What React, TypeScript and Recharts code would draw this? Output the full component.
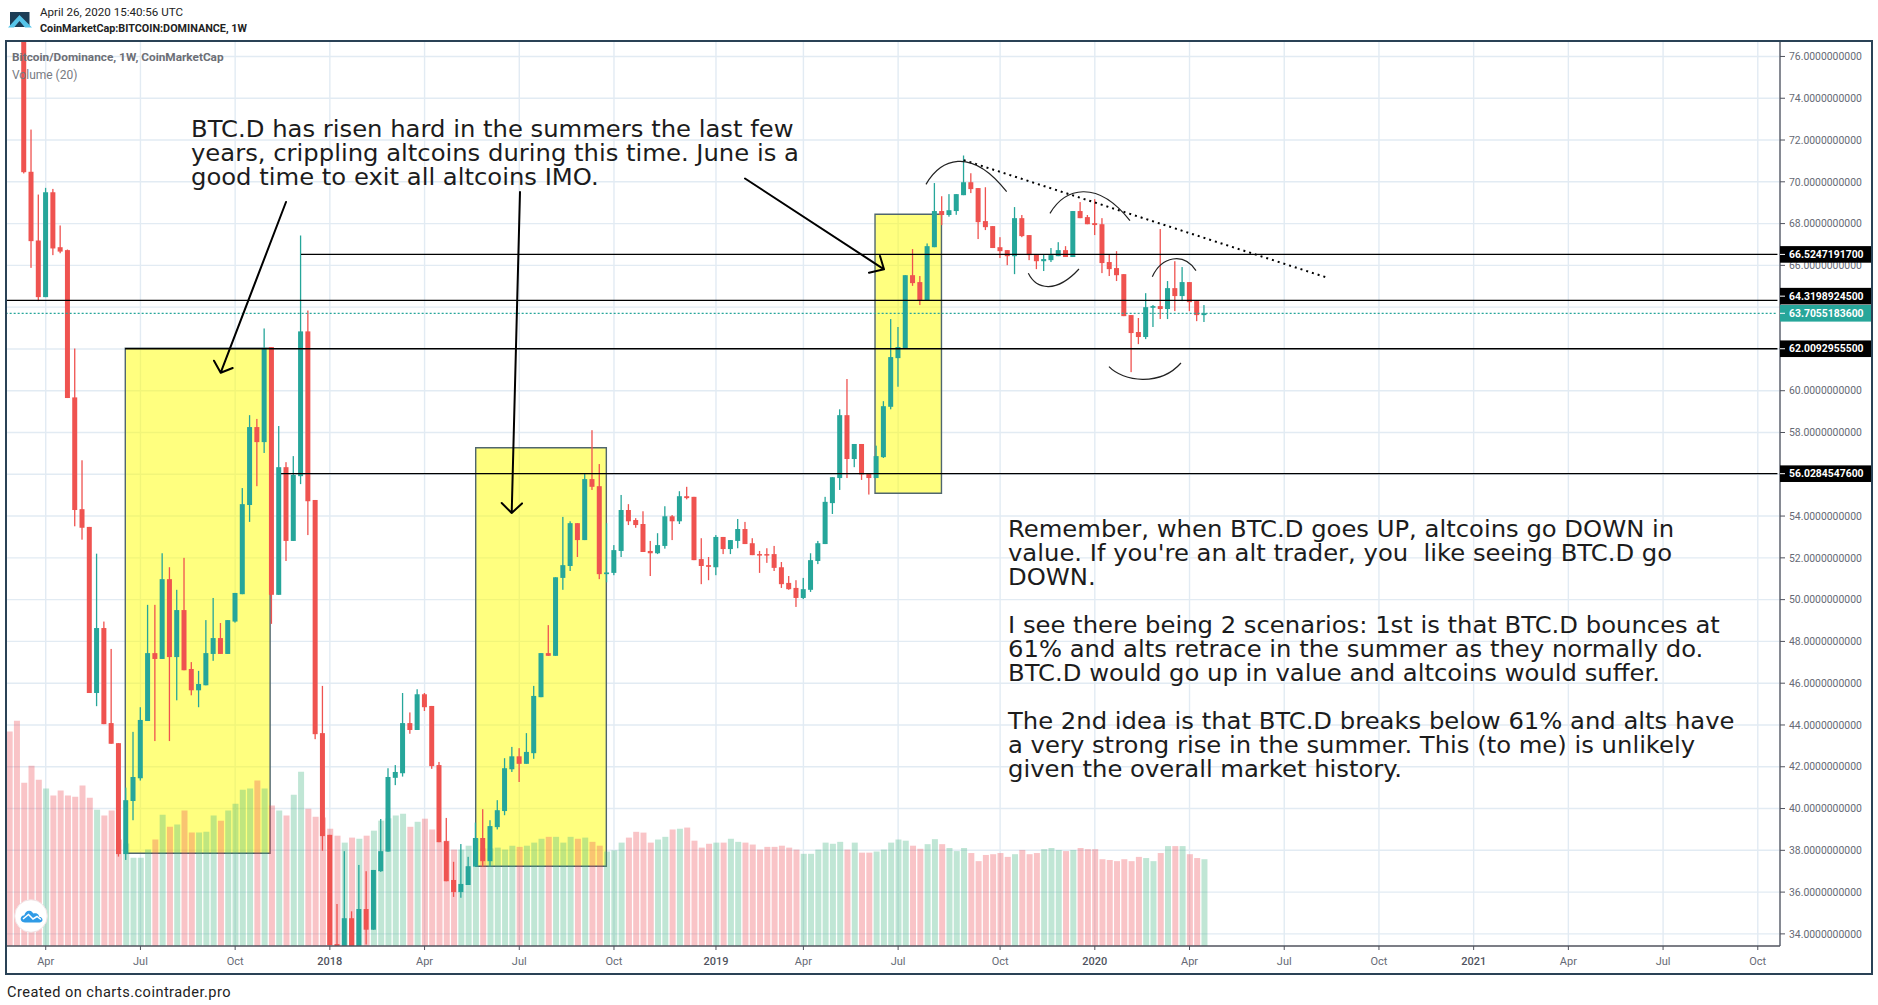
import React from "react";
import {
  Bar,
  CartesianGrid,
  Cell,
  ComposedChart,
  ReferenceArea,
  ReferenceLine,
  XAxis,
  YAxis,
} from "recharts";

// weekly candles (first three start above the visible range)
const opens = [
  85.2, 83.6, 82.4, 70.48, 67.19, 64.48, 69.5, 66.87, 66.73, 59.68, 54.33, 53.48, 45.53, 48.64, 44.09, 43.13, 37.82, 40.36, 41.45, 44.19,
  47.44, 47.16, 50.98, 47.25, 49.5, 46.68, 45.66, 45.9, 47.4, 48.16, 47.4, 48.95, 50.26, 54.53, 58.26, 57.54, 62.09, 50.23, 56.34, 52.81,
  55.91, 62.84, 54.77, 43.61, 38.74, 33.51, 32.8, 34.75, 32.9, 35.19, 34.2, 37.0, 37.94, 41.47, 41.69, 44.09, 43.76, 45.47, 44.91, 42.08,
  38.44, 36.58, 36.0, 36.34, 37.22, 38.59, 37.48, 39.11, 39.88, 41.88, 42.5, 42.14, 42.65, 45.33, 47.44, 47.31, 51.04, 51.61, 53.66, 52.85,
  55.77, 55.43, 51.22, 51.28, 52.33, 54.29, 53.81, 53.62, 52.33, 52.22, 52.57, 53.99, 53.75, 54.95, 54.92, 51.94, 51.65, 51.55, 53.0, 52.42,
  52.81, 53.38, 52.7, 52.18, 52.18, 52.18, 51.55, 50.8, 50.56, 50.08, 50.47, 51.85, 52.66, 54.62, 55.82, 58.83, 56.73, 57.45, 56.02, 55.82,
  56.82, 59.23, 61.56, 62.04, 65.53, 65.2, 64.31, 66.87, 68.6, 68.41, 68.6, 69.36, 69.98, 69.7, 68.12, 67.88, 66.87, 66.73, 66.44, 68.26,
  67.45, 66.54, 66.2, 66.25, 66.44, 66.73, 66.4, 68.6, 68.31, 68.02, 67.97, 66.16, 65.87, 65.58, 63.62, 62.81, 62.57, 63.97, 64.05, 63.91,
  64.91, 64.53, 65.2, 64.29, 63.62,
];
const highs = [
  86.0, 84.6, 82.9, 72.5, 69.39, 69.71, 69.66, 67.91, 66.76, 62.02, 56.67, 53.48, 52.2, 48.95, 47.64, 43.13, 41.0, 43.67, 44.85, 49.75,
  49.75, 52.22, 51.55, 50.47, 52.0, 47.01, 46.59, 49.02, 50.08, 48.88, 49.02, 50.32, 55.34, 58.83, 58.65, 62.98, 62.09, 58.31, 56.58, 56.87,
  67.43, 63.84, 54.77, 45.87, 38.74, 35.43, 37.96, 35.08, 37.3, 37.0, 37.06, 39.5, 41.93, 42.08, 45.53, 44.6, 45.71, 45.53, 44.91, 42.23,
  39.55, 37.45, 38.3, 37.69, 39.33, 39.97, 39.44, 40.4, 42.41, 42.95, 42.89, 43.61, 45.87, 47.44, 48.78, 51.07, 53.96, 53.75, 53.66, 56.06,
  58.11, 56.49, 53.66, 52.61, 55.01, 54.57, 53.9, 54.23, 52.81, 53.18, 54.47, 54.05, 55.19, 55.4, 54.92, 52.94, 52.04, 53.09, 53.0, 52.85,
  53.86, 53.72, 52.94, 52.33, 52.46, 52.57, 51.8, 51.13, 50.93, 51.04, 52.22, 52.81, 54.92, 55.86, 59.11, 60.56, 57.45, 57.45, 56.02, 57.37,
  59.5, 63.43, 63.05, 65.53, 66.78, 65.49, 67.05, 69.94, 69.31, 69.41, 69.41, 71.26, 70.41, 69.7, 69.74, 67.88, 67.35, 66.73, 68.79, 68.41,
  67.45, 66.54, 66.54, 66.83, 67.11, 66.92, 68.6, 69.03, 68.41, 69.17, 68.26, 66.54, 66.68, 65.58, 63.62, 63.48, 64.67, 64.1, 67.74, 65.25,
  66.2, 65.92, 65.2, 64.34, 64.1,
];
const lows = [
  83.1, 81.9, 70.4, 65.88, 64.29, 64.48, 66.49, 66.58, 59.65, 53.51, 52.87, 45.53, 44.9, 44.04, 43.1, 37.7, 37.54, 39.44, 41.34, 44.19,
  43.23, 47.16, 43.23, 45.18, 46.62, 45.42, 44.85, 45.9, 47.07, 47.4, 47.4, 48.9, 50.26, 53.72, 55.43, 57.02, 48.84, 50.23, 51.85, 52.81,
  55.53, 53.09, 43.32, 37.98, 33.46, 32.9, 32.5, 32.7, 32.7, 33.49, 34.2, 36.97, 37.94, 41.12, 41.53, 43.58, 43.76, 44.67, 41.9, 38.39,
  36.52, 35.77, 35.73, 36.34, 37.22, 37.22, 37.22, 39.0, 39.68, 41.75, 41.27, 42.14, 42.38, 45.33, 47.31, 47.31, 50.47, 51.37, 52.04, 52.85,
  55.25, 50.98, 50.83, 51.17, 52.04, 53.57, 53.44, 52.28, 51.13, 52.18, 52.44, 52.85, 53.62, 54.8, 51.89, 50.74, 50.93, 51.17, 52.18, 52.18,
  52.46, 52.66, 52.13, 51.28, 51.76, 51.37, 50.56, 50.47, 49.65, 50.02, 50.37, 51.7, 52.66, 54.1, 55.25, 55.82, 56.34, 55.73, 55.03, 55.82,
  56.78, 59.11, 60.19, 62.04, 65.02, 64.1, 64.31, 66.87, 67.93, 68.33, 68.42, 69.36, 69.46, 67.26, 67.69, 66.83, 66.35, 66.01, 65.58, 67.35,
  66.25, 65.82, 65.73, 66.16, 66.44, 66.4, 66.4, 68.26, 67.97, 67.45, 65.63, 65.49, 65.25, 63.57, 60.89, 62.23, 62.47, 63.05, 63.43, 63.43,
  63.81, 64.29, 63.81, 63.33, 63.29,
];
const closes = [
  83.6, 82.4, 70.46, 67.16, 64.48, 69.5, 66.81, 66.66, 59.65, 54.29, 53.44, 45.53, 48.64, 44.04, 43.1, 37.82, 40.4, 41.51, 44.24, 47.44,
  47.16, 50.98, 47.25, 49.5, 46.62, 45.66, 45.96, 47.44, 48.16, 47.4, 49.02, 50.32, 54.57, 58.26, 57.54, 62.05, 50.23, 56.34, 52.81, 55.97,
  62.84, 54.71, 43.56, 38.68, 33.46, 32.9, 34.75, 32.9, 35.19, 34.2, 37.06, 37.96, 41.51, 41.75, 44.09, 43.76, 45.47, 44.85, 42.03, 38.39,
  36.52, 36.0, 36.39, 37.24, 38.59, 37.48, 39.16, 39.92, 41.93, 42.5, 42.14, 42.71, 45.39, 47.44, 47.31, 51.07, 51.65, 53.66, 52.85, 55.77,
  55.4, 51.22, 51.3, 52.37, 54.29, 53.75, 53.57, 52.28, 52.22, 52.61, 53.99, 53.75, 54.95, 54.86, 51.89, 51.61, 51.57, 53.0, 52.42, 52.85,
  53.38, 52.66, 52.13, 52.15, 52.15, 51.52, 50.74, 50.5, 50.08, 50.5, 51.89, 52.7, 54.68, 55.86, 58.83, 56.73, 57.45, 55.99, 55.82, 56.87,
  59.26, 61.61, 62.09, 65.53, 65.15, 64.31, 66.92, 68.6, 68.41, 68.64, 69.41, 69.98, 69.65, 68.07, 67.83, 66.83, 66.68, 66.44, 68.26, 67.4,
  66.49, 66.2, 66.3, 66.49, 66.73, 66.4, 68.6, 68.26, 67.97, 67.93, 66.11, 65.82, 65.53, 63.57, 62.76, 62.57, 64.0, 64.05, 63.91, 64.91,
  64.53, 65.2, 64.24, 63.62, 63.71,
];
const volumes = [
  556, 584, 423, 467, 431, 408, 390, 403, 390, 387, 416, 384, 353, 338, 351, 276, 266, 229, 229, 250,
  276, 340, 309, 315, 351, 294, 294, 296, 338, 325, 351, 369, 405, 408, 429, 408, 364, 351, 338, 392,
  452, 356, 335, 333, 304, 286, 268, 281, 278, 286, 299, 325, 331, 338, 343, 309, 322, 330, 302, 270,
  273, 250, 250, 260, 279, 253, 253, 255, 250, 260, 257, 260, 268, 278, 283, 283, 268, 283, 278, 281,
  270, 260, 245, 248, 268, 281, 296, 294, 268, 276, 283, 302, 304, 307, 273, 255, 265, 268, 268, 278,
  270, 268, 263, 250, 257, 257, 260, 255, 250, 239, 239, 250, 268, 265, 270, 250, 268, 242, 242, 245,
  250, 268, 276, 273, 260, 252, 264, 277, 264, 254, 246, 254, 241, 220, 236, 238, 241, 231, 238, 249,
  238, 241, 251, 254, 249, 246, 249, 254, 251, 251, 225, 223, 220, 225, 220, 231, 228, 220, 241, 259,
  259, 259, 238, 228, 225,
];

const priceGrid = [76, 74, 72, 70, 68, 66, 64, 62, 60, 58, 56, 54, 52, 50, 48, 46, 44, 42, 40, 38, 36, 34];
const levels = [66.52471917, 64.31989245, 63.70551836, 62.00929555, 56.02845476];
const lastPrice = 63.70551836;
const timeTicks = [5, 18, 31, 44, 57, 70, 83, 97, 109, 122, 136, 149, 162, 175, 188, 201, 214, 227, 240];
const timeLabels = ["Apr", "Jul", "Oct", "2018", "Apr", "Jul", "Oct", "2019", "Apr", "Jul", "Oct", "2020", "Apr", "Jul", "Oct", "2021", "Apr", "Jul", "Oct"];

const noteTop = [
  "BTC.D has risen hard in the summers the last few",
  "years, crippling altcoins during this time. June is a",
  "good time to exit all altcoins IMO.",
];
const noteRight = [
  "Remember, when BTC.D goes UP, altcoins go DOWN in",
  "value. If you're an alt trader, you  like seeing BTC.D go",
  "DOWN.",
  "",
  "I see there being 2 scenarios: 1st is that BTC.D bounces at",
  "61% and alts retrace in the summer as they normally do.",
  "BTC.D would go up in value and altcoins would suffer.",
  "",
  "The 2nd idea is that BTC.D breaks below 61% and alts have",
  "a very strong rise in the summer. This (to me) is unlikely",
  "given the overall market history.",
];

const UP = "#26a69a";
const DOWN = "#ef5350";
const AXIS = "#50535e";
const GRID = "#e2ebf3";
const PLOT_RIGHT = 1780;
const PLOT_BOTTOM = 946;
const X_DOMAIN = [-0.5, 243.05];

const candles = opens.map((open, i) => ({
  index: i,
  open,
  high: highs[i],
  low: lows[i],
  close: closes[i],
  volume: volumes[i],
}));

const CandleShape = (props: any) => {
  const { x, y, width, height, payload } = props;
  const { open, high, low, close } = payload;
  const pxPerUnit = height / (high - low);
  const top = y + (high - Math.max(open, close)) * pxPerUnit;
  const bottom = y + (high - Math.min(open, close)) * pxPerUnit;
  const color = close >= open ? UP : DOWN;
  return (
    <g>
      <rect x={x + width / 2 - 0.65} y={y} width={1.3} height={height} fill={color} />
      <rect x={x} y={top} width={width} height={Math.max(bottom - top, 1.5)} fill={color} />
    </g>
  );
};

const PriceTick = (props: any) => {
  const { y, payload } = props;
  const value = payload.value;
  const isLevel = levels.includes(value);
  // plain labels that sit right under a level tag are not drawn
  if (!isLevel && levels.some((l) => Math.abs(l - value) < 0.45)) return null;
  // the 64.32 tag is pushed up so it stays clear of the last price tag
  const cy = value === levels[1] ? y - 4.3 : y;
  const bg = value === lastPrice ? UP : "#000";
  return (
    <g>
      {isLevel && <rect x={PLOT_RIGHT} y={cy - 8.3} width={91} height={16.6} fill={bg} />}
      <line x1={PLOT_RIGHT} x2={PLOT_RIGHT + 5} y1={cy} y2={cy} stroke={isLevel ? "#fff" : AXIS} strokeWidth={1} />
      <text
        x={PLOT_RIGHT + 9}
        y={cy + 3.7}
        fontFamily="Roboto"
        fontSize={10.4}
        fontWeight={isLevel ? 700 : 400}
        fill={isLevel ? "#fff" : "#666a75"}
      >
        {value.toFixed(10)}
      </text>
    </g>
  );
};

const TimeTick = (props: any) => {
  const { x, payload } = props;
  const label = timeLabels[timeTicks.indexOf(payload.value)];
  const isYear = /^\d/.test(label);
  return (
    <g>
      <line x1={x} x2={x} y1={PLOT_BOTTOM} y2={PLOT_BOTTOM + 4} stroke={AXIS} strokeWidth={1} />
      <text
        x={x}
        y={PLOT_BOTTOM + 19}
        textAnchor="middle"
        fontFamily="Roboto"
        fontSize={11}
        fontWeight={isYear ? 500 : 400}
        fill={isYear ? "#50535e" : "#666a75"}
      >
        {label}
      </text>
    </g>
  );
};

// hand drawn notes on top of the chart
const Drawings = () => (
  <svg
    width={1878}
    height={1005}
    style={{ position: "absolute", left: 0, top: 0, pointerEvents: "none" }}
  >
    <g fill="none" stroke="#000" strokeWidth={2} strokeLinecap="round" strokeLinejoin="round">
      <path d="M286 202 L220.7 372.7 M214 360.7 L220.7 372.7 L232.7 368" />
      <path d="M520 192 L511.7 513 M501.7 503 L511.7 513 L522 503.4" />
      <path d="M745 178.5 L884 269.3 M880 256 L884 269.3 L869 272.7" />
    </g>
    <g transform="translate(860 140) scale(0.3333)" fill="none" stroke="#222" strokeWidth={3.6}>
      <path d="M198 133 C240 60 330 15 440 155" />
      <path d="M505 400 C530 450 590 460 657 387" />
      <path d="M570 220 C615 145 710 115 810 242" />
      <path d="M747 680 C790 725 900 740 963 669" />
      <path d="M877 410 C905 350 970 335 1008 392" />
    </g>
    <g>
      <rect x={10} y={12} width={19.5} height={15} fill="#1c3d56" />
      <path d="M8 27.5 L19.5 15 L32 27.5 L25 27.5 L19.5 21 L14 27.5 Z" fill="#56c5ea" />
    </g>
    <g>
      <circle cx={31} cy={916} r={16.3} fill="#fff" stroke="#f1e3e5" strokeWidth={1} />
      <path
        d="M25 922.5 C21.5 922.5 20 919.5 21 917.5 C21.7 916 23 915.3 24.3 915.3 C25 912.5 27 910.6 29.5 910.8 C31.5 911 32.5 912.5 33.5 913.6 C35 912.8 37.5 913 38.6 915 C39 916 39 916.5 39 916.8 C41 916.8 42.6 918.5 42.5 920 C42.4 921.5 41 922.5 39.5 922.5 Z"
        fill="#2f9be6"
      />
      <path d="M23 919 L28.5 914.5 L33 919 L37 916.5 L41 919.5" fill="none" stroke="#fff" strokeWidth={1.5} />
    </g>
  </svg>
);

// the notes in the screenshot are a little wider than DejaVu at this size
const TextBlock = ({ lines, left, top }: { lines: string[]; left: number; top: number }) => (
  <div
    style={{
      position: "absolute",
      left,
      top,
      fontFamily: "DejaVu Sans",
      fontSize: 23.2,
      lineHeight: "24px",
      color: "#1c1c1c",
      whiteSpace: "pre",
      transform: "scaleX(1.047)",
      transformOrigin: "left top",
    }}
  >
    {lines.map((line, i) => (
      <div key={i} style={{ height: 24 }}>
        {line}
      </div>
    ))}
  </div>
);

const App = () => {
  return (
    <div style={{ position: "absolute", left: 0, top: 0, width: 1878, height: 1005, background: "#fff", overflow: "hidden" }}>
      <ComposedChart
        width={1878}
        height={1005}
        data={candles}
        margin={{ top: 41, right: 6, bottom: 31, left: 5.66 }}
      >
        <CartesianGrid
          xAxisId="price"
          yAxisId="price"
          horizontalValues={priceGrid}
          stroke={GRID}
          strokeWidth={1.4}
        />
        <XAxis
          xAxisId="price"
          dataKey="index"
          type="number"
          domain={X_DOMAIN}
          allowDataOverflow
          ticks={timeTicks}
          interval={0}
          height={28}
          tick={<TimeTick />}
          tickLine={false}
          axisLine={{ stroke: AXIS, strokeWidth: 1.3 }}
        />
        <XAxis xAxisId="volume" dataKey="index" type="number" domain={X_DOMAIN} allowDataOverflow hide />
        <YAxis
          yAxisId="price"
          orientation="right"
          width={92}
          domain={[33.42, 76.74]}
          allowDataOverflow
          ticks={[...priceGrid, ...levels]}
          interval={0}
          tick={<PriceTick />}
          tickLine={false}
          axisLine={{ stroke: AXIS, strokeWidth: 1.3 }}
        />
        <YAxis yAxisId="volume" domain={[0, 2346]} allowDataOverflow hide />

        <ReferenceLine xAxisId="price" yAxisId="price" stroke="#000" strokeWidth={1.3} segment={[{ x: 40.04, y: levels[0] }, { x: 242.7, y: levels[0] }]} />
        <ReferenceLine xAxisId="price" yAxisId="price" stroke="#000" strokeWidth={1.3} segment={[{ x: -0.5, y: levels[1] }, { x: 242.7, y: levels[1] }]} />
        <ReferenceLine xAxisId="price" yAxisId="price" stroke={UP} strokeWidth={1.2} strokeDasharray="2 2" segment={[{ x: -0.5, y: levels[2] }, { x: 242.7, y: levels[2] }]} />
        <ReferenceLine xAxisId="price" yAxisId="price" stroke="#000" strokeWidth={1.3} segment={[{ x: 15.9, y: levels[3] }, { x: 242.7, y: levels[3] }]} />
        <ReferenceLine xAxisId="price" yAxisId="price" stroke="#000" strokeWidth={1.3} segment={[{ x: 37.3, y: levels[4] }, { x: 242.7, y: levels[4] }]} />

        <ReferenceArea xAxisId="price" yAxisId="price" x1={15.92} x2={35.8} y1={37.86} y2={62.03} fill="#ffff00" fillOpacity={0.5} stroke="#50666e" strokeWidth={1.4} />
        <ReferenceArea xAxisId="price" yAxisId="price" x1={64.02} x2={81.95} y1={37.24} y2={57.27} fill="#ffff00" fillOpacity={0.5} stroke="#50666e" strokeWidth={1.4} />
        <ReferenceArea xAxisId="price" yAxisId="price" x1={118.83} x2={127.95} y1={55.09} y2={68.45} fill="#ffff00" fillOpacity={0.5} stroke="#50666e" strokeWidth={1.4} />

        <Bar xAxisId="volume" yAxisId="volume" dataKey="volume" barSize={6} isAnimationActive={false}>
          {candles.map((c) => (
            <Cell key={c.index} fill={c.close >= c.open ? "#3fb27f" : "#ee4b55"} fillOpacity={0.33} />
          ))}
        </Bar>
        <Bar
          xAxisId="price"
          yAxisId="price"
          dataKey={(d: any) => [d.low, d.high]}
          barSize={5}
          shape={<CandleShape />}
          isAnimationActive={false}
        />
        <ReferenceLine
          xAxisId="price"
          yAxisId="price"
          stroke="#000"
          strokeWidth={2}
          strokeDasharray="2 4"
          segment={[{ x: 131, y: 71.04 }, { x: 181, y: 65.4 }]}
        />
      </ComposedChart>

      <Drawings />

      <div style={{ position: "absolute", left: 5, top: 40, width: 1868, height: 935, boxSizing: "border-box", border: "2px solid #2a4256", pointerEvents: "none" }} />

      <div style={{ position: "absolute", left: 40, top: 5, fontFamily: "Roboto", fontSize: 11.6, color: "#222", whiteSpace: "pre" }}>
        April 26, 2020 15:40:56 UTC
      </div>
      <div style={{ position: "absolute", left: 40, top: 22, fontFamily: "Roboto", fontSize: 10.8, fontWeight: 700, color: "#222", whiteSpace: "pre" }}>
        CoinMarketCap:BITCOIN:DOMINANCE, 1W
      </div>
      <div style={{ position: "absolute", left: 12, top: 50, fontFamily: "Roboto", fontSize: 11.8, fontWeight: 700, color: "#6d6f76", whiteSpace: "pre" }}>
        Bitcoin/Dominance, 1W, CoinMarketCap
      </div>
      <div style={{ position: "absolute", left: 12, top: 68, fontFamily: "Roboto", fontSize: 12, color: "#777a82", whiteSpace: "pre" }}>
        Volume (20)
      </div>

      <TextBlock lines={noteTop} left={191} top={117} />
      <TextBlock lines={noteRight} left={1008} top={516.5} />

      <div style={{ position: "absolute", left: 7, top: 983, fontFamily: "Roboto", fontSize: 14.6, letterSpacing: 0.45, color: "#222", whiteSpace: "pre" }}>
        Created on charts.cointrader.pro
      </div>
    </div>
  );
};

export default App;
